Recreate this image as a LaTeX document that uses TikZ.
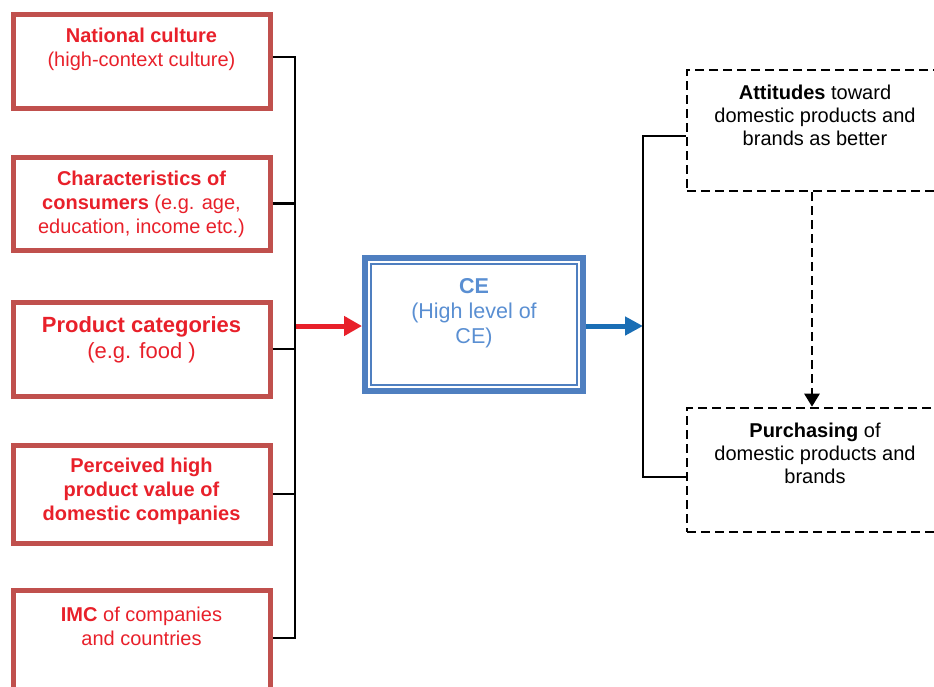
\documentclass[tikz,border=0pt]{standalone}
\usepackage{fontspec}
\setmainfont{Liberation Sans}
\usetikzlibrary{arrows.meta,calc}
\definecolor{boxred}{HTML}{C0504D}
\definecolor{txtred}{HTML}{E8202A}
\definecolor{boxblue}{HTML}{4F7FC0}
\definecolor{txtblue}{HTML}{5A8FD2}
\definecolor{arrblue}{HTML}{1A6EB5}
\tikzset{
  redbox/.style={draw=boxred,line width=5pt,minimum width=257pt,inner sep=0pt},
  redtext/.style={text=txtred,align=center,font=\fontsize{20}{24}\selectfont,inner sep=0pt},
  dashbox/.style={draw=black,line width=2.6pt,dash pattern=on 9pt off 5pt,minimum width=256pt,inner sep=0pt},
  blacktext/.style={text=black,align=center,font=\fontsize{20}{23}\selectfont,inner sep=0pt},
  busline/.style={draw=black,line width=2.2pt},
}
\begin{document}
\begin{tikzpicture}[x=1pt,y=-1pt]
\useasboundingbox (0,0) rectangle (934,686);
% red input boxes
\node[redbox,minimum height=94pt] (b1) at (141.5,61) {};
\node[redbox,minimum height=93pt] (b2) at (141.5,203.5) {};
\node[redbox,minimum height=94pt] (b3) at (141.5,349) {};
\node[redbox,minimum height=98pt] (b4) at (141.5,494) {};
\node[redbox,minimum height=110pt] (b5) at (141.5,645) {};
\node[redtext] (t1) at (141.5,49.5) {\textbf{National culture}\\(high-context culture)};
\node[redtext] (t2) at (141.5,204) {\textbf{Characteristics of}\\\textbf{consumers} (e.g. age,\\education, income etc.)};
\node[redtext,font=\fontsize{22}{26}\selectfont] (t3) at (141.5,340) {\textbf{Product categories}\\(e.g. food )};
\node[redtext] (t4) at (141.5,491.5) {\textbf{Perceived high}\\\textbf{product value of}\\\textbf{domestic companies}};
\node[redtext] (t5) at (141.5,626) {\textbf{IMC} of companies\\and countries};
% left bus
\coordinate (bustop) at (295,57);
\coordinate (busbot) at (295,638);
\draw[busline] ([yshift=4pt]b1.east) -- (bustop) -- (busbot) -- ([yshift=7pt]b5.east);
\draw[busline] (b2.east) -- (b2.east -| bustop);
\draw[busline] (b3.east) -- (b3.east -| bustop);
\draw[busline] (b4.east) -- (b4.east -| bustop);
% CE box
\node[draw=boxblue,line width=6pt,minimum width=218pt,minimum height=133pt,inner sep=0pt] (ce) at (474,324.5) {};
\draw[boxblue,line width=1.5pt] ([shift={(9,9)}]ce.north west) rectangle ([shift={(-9,-9)}]ce.south east);
\node[text=txtblue,align=center,font=\fontsize{21.5}{25}\selectfont,inner sep=0pt] (tce) at (474,313) {\textbf{CE}\\(High level of\\CE)};
\coordinate (redstart) at (296,326);
\draw[txtred,line width=5pt,-{Triangle[length=18pt,width=19pt]}] (redstart) -- (redstart -| ce.west);
% right bus
\coordinate (rbus) at (643,326);
\draw[arrblue,line width=5pt,-{Triangle[length=18pt,width=18pt]}] (ce.east |- rbus) -- (rbus);
% outcome boxes
\node[dashbox,minimum height=121pt] (a1) at (815,130.5) {};
\node[dashbox,minimum height=124pt] (a2) at (815,470) {};
\node[blacktext] (ta1) at (815,115) {\textbf{Attitudes} toward\\domestic products and\\brands as better};
\node[blacktext] (ta2) at (815,453.5) {\textbf{Purchasing} of\\domestic products and\\brands};
\draw[busline] ([yshift=-5.5pt]a1.west) -| (rbus) |- ([yshift=-7pt]a2.west);
\draw[black,line width=2.6pt,dash pattern=on 9pt off 5pt,-{Triangle[length=13pt,width=15pt]}] ([xshift=-3pt]a1.south) -- ([xshift=-3pt]a2.north);
\end{tikzpicture}
\end{document}
